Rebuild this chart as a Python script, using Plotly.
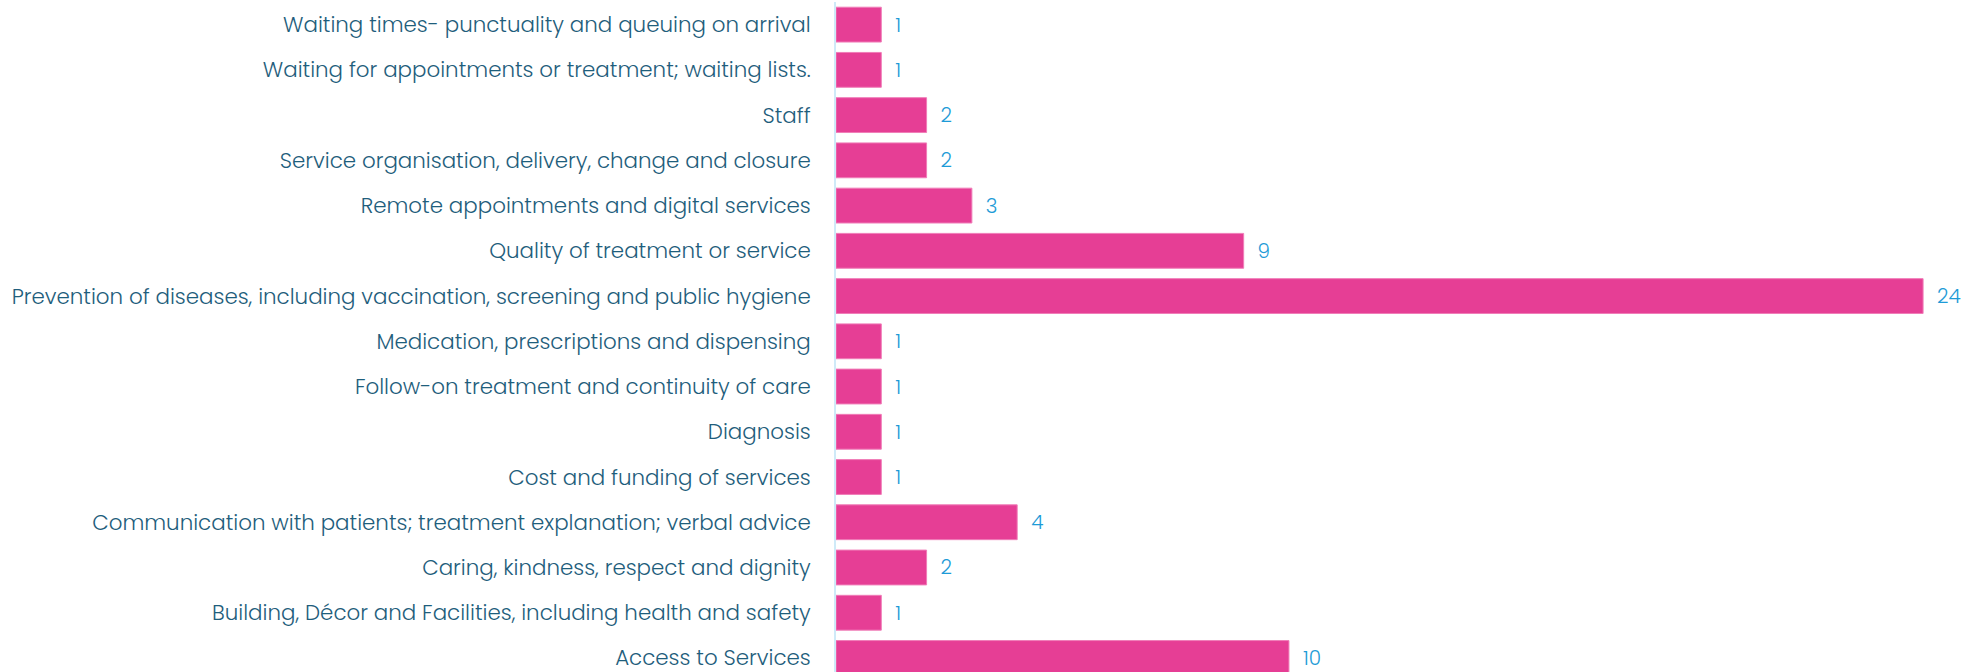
import plotly.graph_objects as go

categories = [
    "Access to Services",
    "Building, Décor and Facilities, including health and safety",
    "Caring, kindness, respect and dignity",
    "Communication with patients; treatment explanation; verbal advice",
    "Cost and funding of services",
    "Diagnosis",
    "Follow-on treatment and continuity of care",
    "Medication, prescriptions and dispensing",
    "Prevention of diseases, including vaccination, screening and public hygiene",
    "Quality of treatment or service",
    "Remote appointments and digital services",
    "Service organisation, delivery, change and closure",
    "Staff",
    "Waiting for appointments or treatment; waiting lists.",
    "Waiting times- punctuality and queuing on arrival",
]
values = [10, 1, 2, 4, 1, 1, 1, 1, 24, 9, 3, 2, 2, 1, 1]

FONT = "Poppins, Lato, 'Open Sans', sans-serif"

fig = go.Figure(
    go.Bar(
        x=values,
        y=categories,
        orientation="h",
        marker=dict(color="#E63E95", line=dict(color="#F07DB8", width=1)),
        text=[f"  {v}" for v in values],
        textposition="outside",
        cliponaxis=False,
        textfont=dict(family=FONT, size=20, color="#1E9BD7", weight=300),
        hoverinfo="skip",
    )
)

fig.update_layout(
    width=1972,
    height=672,
    margin=dict(l=836, r=0, t=2, b=0),
    paper_bgcolor="white",
    plot_bgcolor="white",
    bargap=0.23,
    showlegend=False,
    xaxis=dict(
        range=[0, 25.08],
        visible=False,
        showgrid=False,
        zeroline=False,
    ),
    yaxis=dict(
        range=[-0.31, 14.5],
        showgrid=False,
        zeroline=False,
        showline=True,
        linecolor="#CFEAF8",
        linewidth=2,
        ticks="",
        ticklabelstandoff=19,
        tickfont=dict(family=FONT, size=21.4, color="#1F5E7C", weight=300),
        automargin=False,
    ),
)

fig.write_html("out.html")
